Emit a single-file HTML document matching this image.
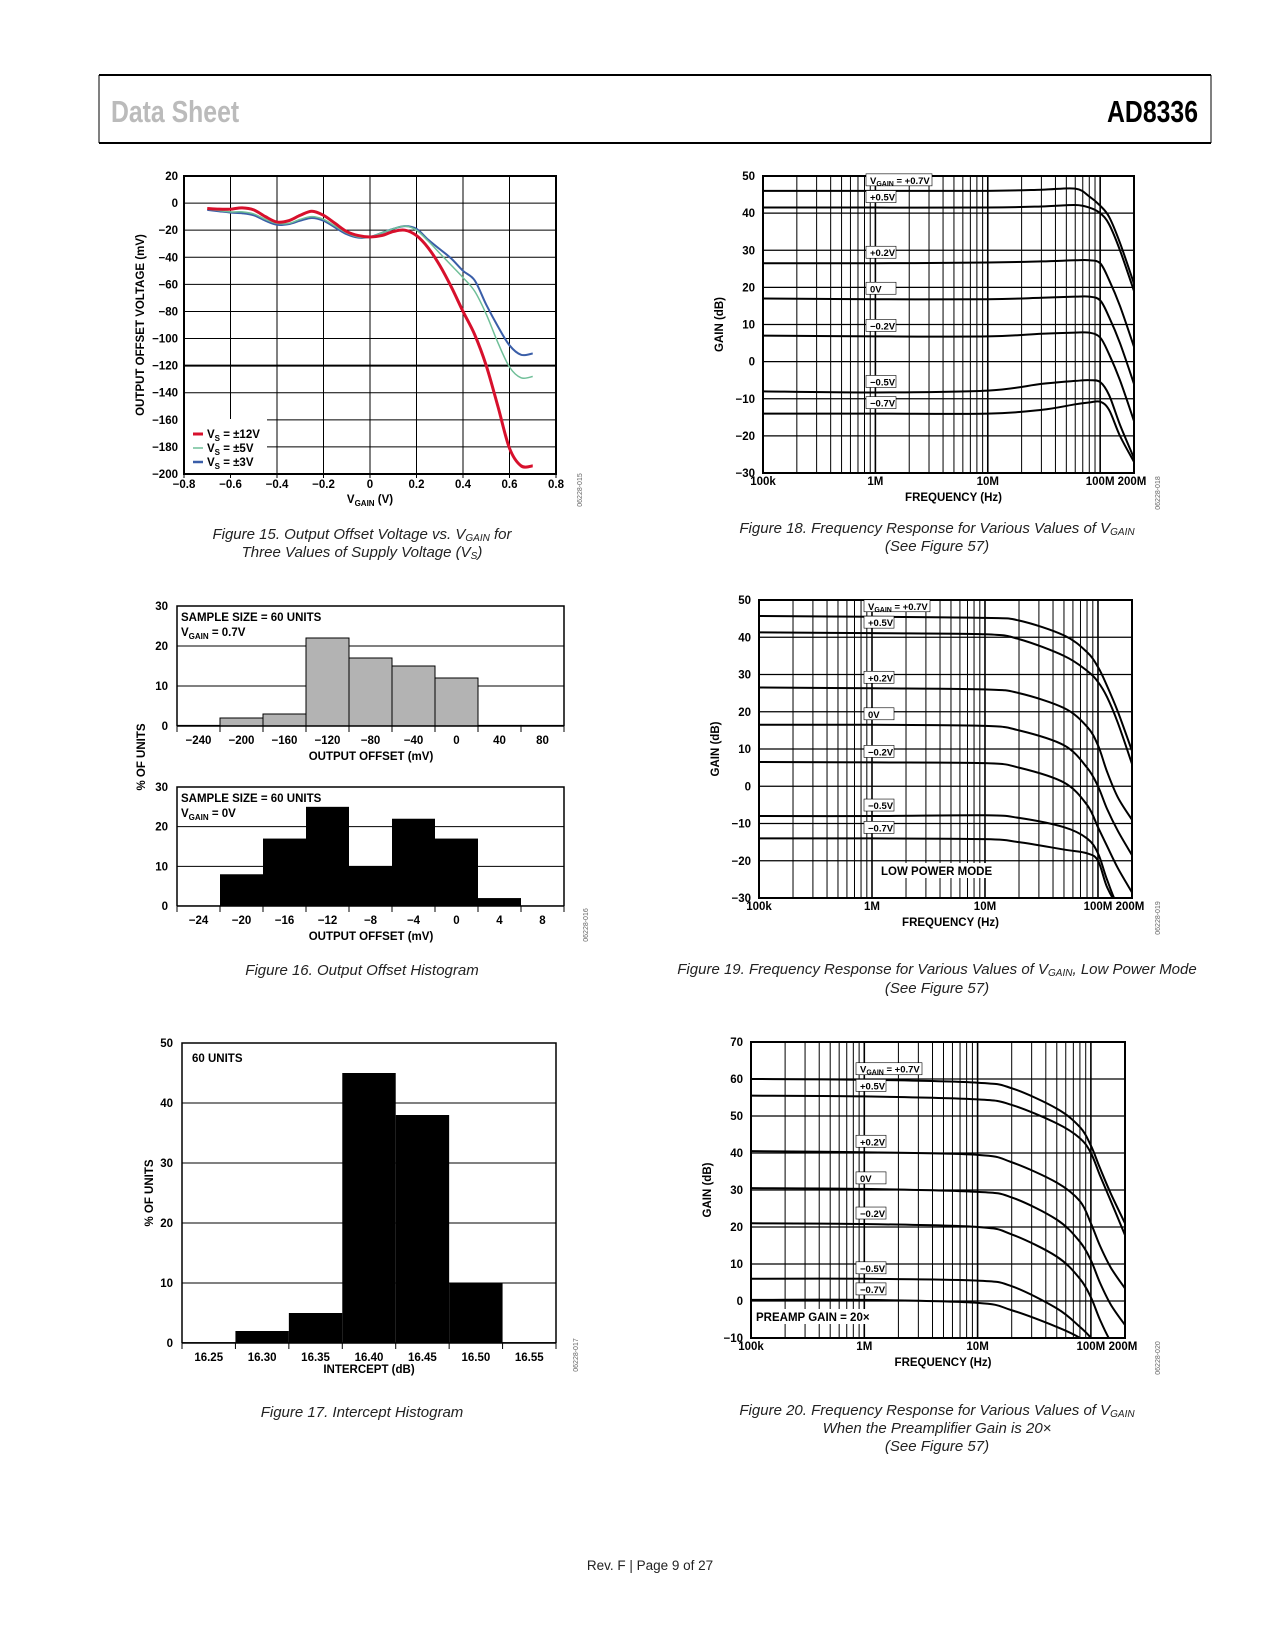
<!DOCTYPE html>
<html><head><meta charset="utf-8">
<style>
html,body{margin:0;padding:0;background:#fff;}
svg{display:block;font-family:"Liberation Sans",Arial,sans-serif;}
.t{font-size:11.5px;font-weight:bold;fill:#000;}
.cap{font-size:15px;font-style:italic;fill:#222;}
</style></head>
<body>
<svg id="page" width="1275" height="1650" viewBox="0 0 1275 1650" xmlns="http://www.w3.org/2000/svg">
<g>
<line x1="99" y1="75" x2="1211" y2="75" stroke="#000" stroke-width="2"/>
<line x1="99" y1="143" x2="1211" y2="143" stroke="#000" stroke-width="2"/>
<line x1="99" y1="75" x2="99" y2="143" stroke="#000" stroke-width="1"/>
<line x1="1211" y1="75" x2="1211" y2="143" stroke="#000" stroke-width="1"/>
<text x="111" y="122" font-size="31" font-weight="bold" fill="#bbb" transform="translate(111 0) scale(0.8 1) translate(-111 0)">Data Sheet</text>
<text x="1198" y="122" font-size="31" font-weight="bold" fill="#000" text-anchor="end" transform="translate(1198 0) scale(0.8 1) translate(-1198 0)">AD8336</text>
</g>
<text class="cap" x="362" y="539" text-anchor="middle">Figure 15. Output Offset Voltage vs. V<tspan font-size="10" dy="2">GAIN</tspan><tspan dy="-2"> for</tspan></text>
<text class="cap" x="362" y="557" text-anchor="middle">Three Values of Supply Voltage (V<tspan font-size="10" dy="2">S</tspan><tspan dy="-2">)</tspan></text>
<text class="cap" x="937" y="533" text-anchor="middle">Figure 18. Frequency Response for Various Values of V<tspan font-size="10" dy="2">GAIN</tspan></text>
<text class="cap" x="937" y="551" text-anchor="middle">(See Figure 57)</text>
<text class="cap" x="362" y="975" text-anchor="middle">Figure 16. Output Offset Histogram</text>
<text class="cap" x="937" y="974" text-anchor="middle">Figure 19. Frequency Response for Various Values of V<tspan font-size="10" dy="2">GAIN</tspan><tspan dy="-2">, Low Power Mode</tspan></text>
<text class="cap" x="937" y="993" text-anchor="middle">(See Figure 57)</text>
<text class="cap" x="362" y="1417" text-anchor="middle">Figure 17. Intercept Histogram</text>
<text class="cap" x="937" y="1415" text-anchor="middle">Figure 20. Frequency Response for Various Values of V<tspan font-size="10" dy="2">GAIN</tspan></text>
<text class="cap" x="937" y="1433" text-anchor="middle">When the Preamplifier Gain is 20×</text>
<text class="cap" x="937" y="1451" text-anchor="middle">(See Figure 57)</text>
<text x="650" y="1570" text-anchor="middle" font-size="13.5" fill="#222">Rev. F | Page 9 of 27</text>
</svg>
<script>
// ---------- Figure 15 data ----------
const f15X = [-0.7,-0.65,-0.6,-0.55,-0.5,-0.45,-0.4,-0.35,-0.3,-0.25,-0.2,-0.15,-0.1,-0.05,0,0.05,0.1,0.15,0.2,0.25,0.3,0.35,0.4,0.45,0.5,0.55,0.6,0.65,0.7];
const f15Red = [-4,-4.5,-4.5,-3.5,-5,-10,-14,-13,-9,-6,-9,-15,-21,-24,-25,-24,-21,-20,-24,-33,-46,-62,-80,-97,-120,-150,-181,-194,-194];
const f15Green = [-4.5,-5.5,-6.5,-6.5,-8,-12,-15,-15,-12,-10,-12,-17,-22,-25,-25,-22,-19,-17,-20,-28,-37,-46,-55,-65,-82,-103,-121,-129,-128];
const f15Blue = [-5,-6,-7,-7.5,-9,-13,-16,-15.5,-13,-11,-13,-18,-23,-25.5,-25,-22,-19,-17,-19,-27,-34,-41,-50,-57,-75,-91,-105,-112,-111];
const f15XTicks = ["−0.8","−0.6","−0.4","−0.2","0","0.2","0.4","0.6","0.8"];
const f15YTicks = ["20","0","−20","−40","−60","−80","−100","−120","−140","−160","−180","−200"];
// ---------- Figure 16 data ----------
const f16aCats = ["−240","−200","−160","−120","−80","−40","0","40","80"];
const f16aVals = [0,2,3,22,17,15,12,0,0];
const f16bCats = ["−24","−20","−16","−12","−8","−4","0","4","8"];
const f16bVals = [0,8,17,25,10,22,17,2,0];
// ---------- Figure 17 data ----------
const f17Cats = ["16.25","16.30","16.35","16.40","16.45","16.50","16.55"];
const f17Vals = [0,2,5,45,38,10,0];
// ---------- Figure 18 data ----------
const f18Freq = [1e5,1e6,1e7,3e7,6e7,8e7,1e8,1.2e8,1.5e8,2e8];
const f18P07 = [46,46,46,46.3,46.6,44.5,42,39,32,21];
const f18P05 = [41.5,41.5,41.5,41.8,42.2,41.5,40,37,30,19];
const f18P02 = [26.5,26.5,26.7,27,27.3,27.3,26.5,22,15,4];
const f18Z = [17,16.8,16.8,17.2,17.5,17.5,16.5,12,5,-6];
const f18M02 = [7,6.8,6.8,7.5,7.8,7.8,6.5,2,-5,-16];
const f18M05 = [-8,-8.3,-7.8,-6,-5.2,-5,-5.5,-9,-17,-26];
const f18M07 = [-14,-14,-14,-13,-11.5,-11,-10.8,-13,-20,-27];
// ---------- Figure 19 data ----------
const f19Freq = [1e5,1e6,1e7,2e7,5e7,8e7,1e8,1.2e8,1.5e8,2e8];
const f19P07 = [45.7,45.5,45.2,44.5,40.5,36,32,27,20,9.5];
const f19P05 = [41.3,41.1,40.8,39.5,35,31,28,24,17,6];
const f19P02 = [26.5,26.3,26,25,21,16,11,4,-3,-9];
const f19Z = [16.5,16.5,16.2,15,11,5,0,-6,-12,-18.5];
const f19M02 = [6.5,6.4,6.2,5,1,-5,-11,-16,-22,-28.5];
const f19M05 = [-8,-8,-7.8,-8.5,-11,-14,-18,-25,-32,-35];
const f19M07 = [-14,-14,-14.2,-15,-17,-18,-20,-27,-32,-35];
// ---------- Figure 20 data ----------
const f20Freq = [1e5,1e6,1e7,2e7,5e7,8e7,1e8,1.2e8,1.5e8,2e8];
const f20P07 = [60,59.8,59,57.5,52,47,42,36,29,21];
const f20P05 = [55.5,55.3,54.5,53,48,44,40,34,27,17.8];
const f20P02 = [40.5,40.2,39.5,37.5,32,27,21,15,9,3.4];
const f20Z = [30.5,30.3,29.5,28,22,16,11,5,-1,-6.5];
const f20M02 = [21,20.8,20,18,12,6,1,-5,-11,-16];
const f20M05 = [6,6,5.5,4,-2,-7,-10,-14,-18,-22];
const f20M07 = [0.3,0.3,-0.5,-2.5,-7,-10,-13,-16,-20,-24];
const freqTickLabels = ["100k","1M","10M","100M","200M"];
const freqTickVals = [1e5,1e6,1e7,1e8,2e8];

const NS = "http://www.w3.org/2000/svg";
const page = document.getElementById("page");
function mk(tag, attrs, parent) {
  const e = document.createElementNS(NS, tag);
  for (const k in attrs) e.setAttribute(k, attrs[k]);
  (parent || page).appendChild(e);
  return e;
}
function txt(s, x, y, parent, anchor, cls) {
  const t = mk("text", {x: x, y: y, "text-anchor": anchor || "middle", "class": cls || "t"}, parent);
  t.textContent = s;
  return t;
}
let clipId = 0;
function smoothPath(pts) {
  let d = "M" + pts[0][0] + "," + pts[0][1];
  for (let i = 0; i < pts.length - 1; i++) {
    const p0 = pts[Math.max(0, i - 1)], p1 = pts[i], p2 = pts[i + 1], p3 = pts[Math.min(pts.length - 1, i + 2)];
    const c1x = p1[0] + (p2[0] - p0[0]) / 6, c1y = p1[1] + (p2[1] - p0[1]) / 6;
    const c2x = p2[0] - (p3[0] - p1[0]) / 6, c2y = p2[1] - (p3[1] - p1[1]) / 6;
    d += " C" + c1x + "," + c1y + " " + c2x + "," + c2y + " " + p2[0] + "," + p2[1];
  }
  return d;
}

// ---------- Figure 15 ----------
(function () {
  const g = mk("g", {});
  
  
  const L = 184, R = 556, T = 176, B = 474;
  const xs = v => L + (v + 0.8) / 1.6 * (R - L);
  const ys = v => T + (20 - v) / 220 * (B - T);
  for (let i = 0; i < f15YTicks.length; i++) {
    const v = 20 - 20 * i;
    const gl = mk("line", {x1: L, x2: R, y1: ys(v), y2: ys(v), stroke: "#000", "stroke-width": v === -120 ? 2 : 1}, g);
    
    
    const tl = txt(f15YTicks[i], L - 6, ys(v) + 4, g, "end");
    
    
  }
  for (let i = 0; i < f15XTicks.length; i++) {
    const v = -0.8 + 0.2 * i;
    const gl = mk("line", {x1: xs(v), x2: xs(v), y1: T, y2: B + 4, stroke: "#000", "stroke-width": 1}, g);
    
    
    const tl = txt(f15XTicks[i], xs(v), B + 14, g);
    
    
  }
  mk("rect", {x: L, y: T, width: R - L, height: B - T, fill: "none", stroke: "#000", "stroke-width": 2}, g);
  const series = [[f15Blue, "#3a5ea8", 2, "series-vs-3v"], [f15Green, "#6fbf98", 1.5, "series-vs-5v"], [f15Red, "#d7102c", 3, "series-vs-12v"]];
  series.forEach(s => {
    const pts = f15X.map((x, i) => [xs(x), ys(s[0][i])]);
    const p = mk("path", {d: smoothPath(pts), fill: "none", stroke: s[1], "stroke-width": s[2]}, g);
    
    
  });
  const lg = mk("g", {}, g);
  
  
  mk("rect", {x: L + 1, y: 419, width: 82, height: B - 420, fill: "#fff"}, lg);
  const leg = [["#d7102c", 3, "±12V"], ["#6fbf98", 1.5, "±5V"], ["#3a5ea8", 2.5, "±3V"]];
  leg.forEach((l, i) => {
    const y = 434 + i * 14;
    mk("line", {x1: 193, x2: 203, y1: y, y2: y, stroke: l[0], "stroke-width": l[1]}, lg);
    const t = mk("text", {x: 207, y: y + 4, "class": "t"}, lg);
    
    
    t.innerHTML = 'V<tspan font-size="8" dy="3">S</tspan><tspan dy="-3"> = ' + l[2] + '</tspan>';
  });
  const yt = txt("OUTPUT OFFSET VOLTAGE (mV)", 0, 0, g);
  yt.setAttribute("transform", "translate(144 325) rotate(-90)");
  
  
  const xt = mk("text", {x: xs(0), y: B + 29, "text-anchor": "middle", "class": "t"}, g);
  xt.innerHTML = 'V<tspan font-size="8" dy="3">GAIN</tspan><tspan dy="-3"> (V)</tspan>';
  
  
  const code = txt("06228-015", 0, 0, g, "middle");
  code.setAttribute("transform", "translate(582 490) rotate(-90)");
  code.setAttribute("style", "font-size:7px;font-weight:normal;fill:#666");
  
  
})();

// ---------- Histogram helper ----------
function histogram(name, L, R, T, B, ymax, ystep, cats, vals, fill, bold) {
  const g = mk("g", {});
  
  
  const n = cats.length;
  const bw = (R - L) / n;
  const ys = v => B - v / ymax * (B - T);
  for (let v = 0; v <= ymax; v += ystep) {
    if (v > 0 && v < ymax) {
      const gl = mk("line", {x1: L, x2: R, y1: ys(v), y2: ys(v), stroke: "#000", "stroke-width": 1}, g);
      
      
    }
    const tl = txt(String(v), L - 9, ys(v) + 4, g, "end");
    
    
  }
  for (let i = 0; i < n; i++) {
    const x = L + i * bw;
    const v = vals[i];
    const h = Math.max(v, 0.15);
    const r = mk("rect", {x: x, y: ys(h), width: bw, height: B - ys(h), fill: fill, stroke: "#000", "stroke-width": bold ? 1 : 0}, g);
    
    
    const tl = txt(cats[i], x + bw / 2, B + 18, g);
    
    
  }
  for (let i = 0; i <= n; i++) {
    mk("line", {x1: L + i * bw, x2: L + i * bw, y1: B, y2: B + 6, stroke: "#000", "stroke-width": 1}, g);
  }
  mk("polyline", {points: L + "," + B + " " + L + "," + T + " " + R + "," + T + " " + R + "," + B, fill: "none", stroke: "#000", "stroke-width": 1.5}, g);
  mk("line", {x1: L, x2: R, y1: B, y2: B, stroke: "#000", "stroke-width": 1.5}, g);
  return g;
}
(function () {
  const a = histogram("fig16-histogram-vgain-0p7", 177, 564, 606, 726, 30, 10, f16aCats, f16aVals, "#b3b3b3", true);
  const b = histogram("fig16-histogram-vgain-0v", 177, 564, 787, 906, 30, 10, f16bCats, f16bVals, "#000", false);
  const ta = mk("text", {x: 181, y: 621, "class": "t"}, a);
  ta.innerHTML = 'SAMPLE SIZE = 60 UNITS';
  const ta2 = mk("text", {x: 181, y: 636, "class": "t"}, a);
  ta2.innerHTML = 'V<tspan font-size="8" dy="3">GAIN</tspan><tspan dy="-3"> = 0.7V</tspan>';
  const tb = mk("text", {x: 181, y: 802, "class": "t"}, b);
  tb.innerHTML = 'SAMPLE SIZE = 60 UNITS';
  const tb2 = mk("text", {x: 181, y: 817, "class": "t"}, b);
  tb2.innerHTML = 'V<tspan font-size="8" dy="3">GAIN</tspan><tspan dy="-3"> = 0V</tspan>';
  const x1 = txt("OUTPUT OFFSET (mV)", 371, 760, a);
  
  
  const x2 = txt("OUTPUT OFFSET (mV)", 371, 940, b);
  
  
  const yt = txt("% OF UNITS", 0, 0, a);
  yt.setAttribute("transform", "translate(145 757) rotate(-90)");
  
  
  const code = txt("06228-016", 0, 0, a);
  code.setAttribute("transform", "translate(588 925) rotate(-90)");
  code.setAttribute("style", "font-size:7px;font-weight:normal;fill:#666");

  const c = histogram("fig17-intercept-histogram", 182, 556, 1043, 1343, 50, 10, f17Cats, f17Vals, "#000", false);
  txt("60 UNITS", 192, 1062, c, "start");
  const x3 = txt("INTERCEPT (dB)", 369, 1373, c);
  
  
  const y3 = txt("% OF UNITS", 0, 0, c);
  y3.setAttribute("transform", "translate(153 1193) rotate(-90)");
  
  
  const code2 = txt("06228-017", 0, 0, c);
  code2.setAttribute("transform", "translate(578 1355) rotate(-90)");
  code2.setAttribute("style", "font-size:7px;font-weight:normal;fill:#666");
})();

// ---------- Frequency chart helper ----------
function freqChart(name, L, R, T, B, ymin, ymax, freqs, series, labels, labelX, extra, codeTxt, codeX) {
  const g = mk("g", {});
  
  
  const span = Math.log10(2e8) - 5;
  const xs = f => L + (Math.log10(f) - 5) / span * (R - L);
  const ys = v => T + (ymax - v) / (ymax - ymin) * (B - T);
  for (let v = ymin; v <= ymax; v += 10) {
    const gl = mk("line", {x1: L, x2: R, y1: ys(v), y2: ys(v), stroke: "#000", "stroke-width": 1.3}, g);
    
    
    const tl = txt(v < 0 ? "−" + (-v) : String(v), L - 8, ys(v) + 4, g, "end");
    
    
  }
  for (let d = 5; d <= 8; d++) {
    for (let m = 1; m <= 9; m++) {
      const f = m * Math.pow(10, d);
      if (f > 2e8) break;
      const gl = mk("line", {x1: xs(f), x2: xs(f), y1: T, y2: B, stroke: "#000", "stroke-width": m === 1 ? 1.6 : 1}, g);
      
      
    }
  }
  freqTickVals.forEach((f, i) => {
    const tl = txt(freqTickLabels[i], xs(f) + (i === 4 ? -2 : 0), B + 12, g);
    
    
  });
  const cid = "clip" + (clipId++);
  const cp = mk("clipPath", {id: cid}, g);
  mk("rect", {x: L, y: T, width: R - L, height: B - T}, cp);
  const sg = mk("g", {"clip-path": "url(#" + cid + ")"}, g);
  series.forEach((s, k) => {
    const pts = freqs.map((f, i) => [xs(f), ys(s[i])]);
    const p = mk("path", {d: smoothPath(pts), fill: "none", stroke: "#000", "stroke-width": 2}, sg);
    
    
  });
  mk("rect", {x: L, y: T, width: R - L, height: B - T, fill: "none", stroke: "#000", "stroke-width": 2}, g);
  labels.forEach((l, k) => {
    const y = ys(series[k][1]) - 7;
    const bw = k === 0 ? 66 : 30;
    mk("rect", {x: labelX - 4, y: y - 10, width: bw, height: 12, fill: "#fff", stroke: "#000", "stroke-width": 0.6}, g);
    const t = mk("text", {x: labelX, y: y, "class": "t", style: "font-size:9.5px"}, g);
    
    
    if (k === 0) t.innerHTML = 'V<tspan font-size="7" dy="2">GAIN</tspan><tspan dy="-2"> = +0.7V</tspan>';
    else t.textContent = l;
  });
  const xt = txt("FREQUENCY (Hz)", (L + R) / 2 + 5, B + 28, g);
  
  
  const yt = txt("GAIN (dB)", 0, 0, g);
  yt.setAttribute("transform", "translate(" + (L - 40) + " " + ((T + B) / 2) + ") rotate(-90)");
  
  
  if (extra) {
    mk("rect", {x: extra[1] - 3, y: extra[2] - 12, width: extra[3], height: 15, fill: "#fff"}, g);
    const e = txt(extra[0], extra[1], extra[2], g, "start");
    
    
  }
  const code = txt(codeTxt, 0, 0, g);
  code.setAttribute("transform", "translate(" + codeX + " " + (B + 20) + ") rotate(-90)");
  code.setAttribute("style", "font-size:7px;font-weight:normal;fill:#666");
}
const lbls = ["VGAIN = +0.7V", "+0.5V", "+0.2V", "0V", "−0.2V", "−0.5V", "−0.7V"];
freqChart("fig18-frequency-response-chart", 763, 1134, 176, 473, -30, 50, f18Freq,
  [f18P07, f18P05, f18P02, f18Z, f18M02, f18M05, f18M07], lbls, 870, null, "06228-018", 1160);
freqChart("fig19-frequency-response-low-power-chart", 759, 1132, 600, 898, -30, 50, f19Freq,
  [f19P07, f19P05, f19P02, f19Z, f19M02, f19M05, f19M07], lbls, 868, ["LOW POWER MODE", 881, 875, 120], "06228-019", 1160);
freqChart("fig20-frequency-response-preamp-20x-chart", 751, 1125, 1042, 1338, -10, 70, f20Freq,
  [f20P07, f20P05, f20P02, f20Z, f20M02, f20M05, f20M07], lbls, 860, ["PREAMP GAIN = 20×", 756, 1321, 125], "06228-020", 1160);
</script>
</body></html>
